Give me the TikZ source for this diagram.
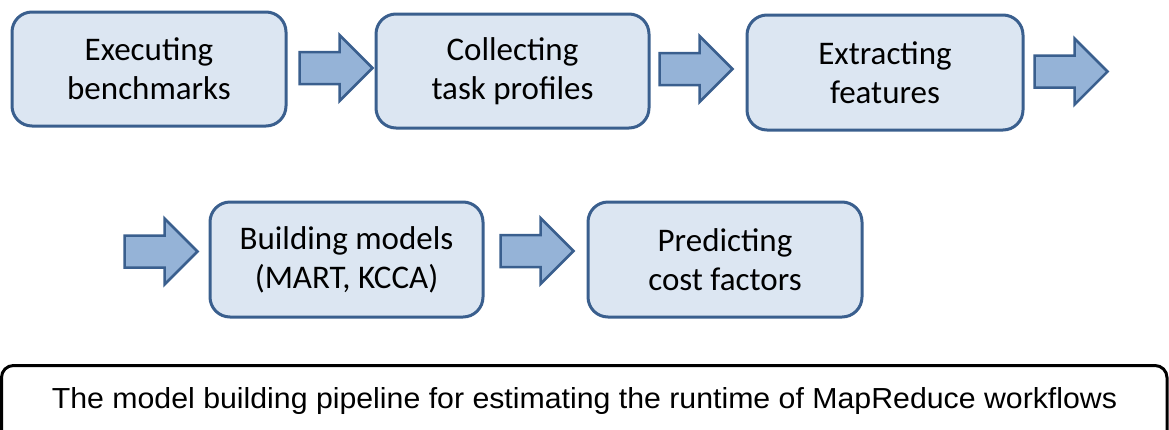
\documentclass[tikz,border=0pt]{standalone}
\usepackage{fontspec}
\setmainfont{Carlito}
\newfontfamily\capfont{Liberation Sans}
\usetikzlibrary{calc}
\definecolor{boxfill}{HTML}{DCE6F2}
\definecolor{boxline}{HTML}{3A5F8E}
\definecolor{arrfill}{HTML}{95B3D7}
\tikzset{
  stepbox/.style={draw=boxline, fill=boxfill, line width=3pt, rounded corners=20pt,
    align=center, inner sep=0pt, font=\fontsize{33}{39}\selectfont},
  barrow/.style={draw=boxline, fill=arrfill, line width=2.5pt, line join=miter},
}
\newcommand{\blockarrowpath}{++(0,-16) -- ++(40,0) -- ++(0,-17) -- ++(33,33) -- ++(-33,33) -- ++(0,-17) -- ++(-40,0) -- cycle}
\begin{document}
\begin{tikzpicture}[x=1pt,y=-1pt]
\useasboundingbox (0,0) rectangle (1169,429);
\node[stepbox, minimum width=274pt, minimum height=114pt] (b1) at (149,69) {Executing\\benchmarks};
\node[stepbox, minimum width=273pt, minimum height=114pt] (b2) at (512.5,71) {Collecting\\task profiles};
\node[stepbox, minimum width=276pt, minimum height=115pt] (b3) at (885,72.5) {Extracting\\features};
\node[stepbox, minimum width=273pt, minimum height=115pt] (b4) at (346.5,259.5) {Building models\\(MART, KCCA)};
\node[stepbox, minimum width=274pt, minimum height=115pt] (b5) at (725,259.5) {Predicting\\cost factors};
% block arrows
\draw[barrow] ($(b1.east)+(12,-1)$) \blockarrowpath;
\draw[barrow] ($(b2.east)+(9,-2)$) \blockarrowpath;
\draw[barrow] ($(b3.east)+(10,-1)$) \blockarrowpath;
\draw[barrow] ($(b4.west)+(-84,-8)$) \blockarrowpath;
\draw[barrow] ($(b4.east)+(16,-8.5)$) \blockarrowpath;
% caption frame
\begin{scope}
\clip (0,0) rectangle (1169,429);
\draw[line width=3pt, rounded corners=12pt] (1.5,365.5) rectangle (1167,460);
\end{scope}
\node[anchor=base, inner sep=0pt] (cap) at (584.5,408) {\capfont\resizebox{1065pt}{21pt}{The model building pipeline for estimating the runtime of MapReduce workflows}};
\end{tikzpicture}
\end{document}
